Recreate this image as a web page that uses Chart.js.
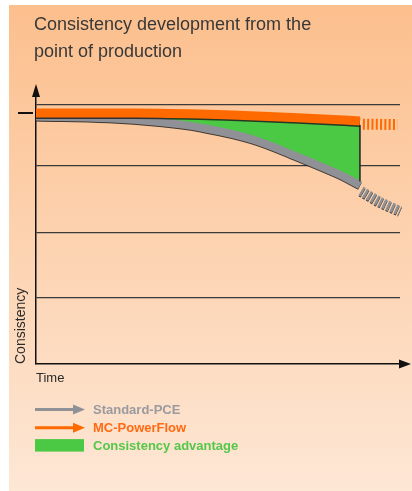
<!DOCTYPE html>
<html>
<head>
<meta charset="utf-8">
<script src="https://cdn.jsdelivr.net/npm/chart.js@4/dist/chart.umd.min.js"></script>
<style>
    body { margin: 0; background: #fff; }
    #wrap { position: relative; width: 412px; height: 491px; overflow: hidden; }
    #panel { position: absolute; left: 9px; top: 5px; right: 0; bottom: 0;
        background: linear-gradient(#fcbf8d, #fde7d5); }
    #chart { position: absolute; left: 0; top: 0; }
</style>
</head>
<body>
<div id="wrap">
    <div id="panel"></div>
    <canvas id="chart" width="412" height="491"></canvas>
</div>
<script>
// chart data (time 0..100, consistency 0..100)
var titleLines = ['Consistency development from the', 'point of production'];
var timePoints = [0, 20, 34, 45, 59, 72, 83, 89];
var mcPowerFlow = [94.0, 94.0, 93.9, 93.6, 93.0, 92.2, 91.5, 91.0];
var standardPce = [92.7, 92.0, 90.6, 88.6, 84.3, 77.5, 71.2, 67.0];
var flowTailTime = [89.8, 99.3];
var flowTail = [89.8, 89.7];
var pceTailTime = [89.3, 94.5, 100];
var pceTail = [64.8, 60.7, 57.3];
var gridValues = [24.7, 49.4, 74.2, 97];
var legendLabels = ['Standard-PCE', 'MC-PowerFlow', 'Consistency advantage'];
var legendColors = ['#9a9a9f', '#ff6a13', '#55c74a'];

var orange = '#ff6a00';
var gray = '#8f9196';
var green = '#4cc944';

function points(xs, ys) {
    return xs.map(function (x, i) { return { x: x, y: ys[i] }; });
}

var extras = {
    id: 'extras',
    beforeDatasetDraw: function (chart, args) {
        var ds = chart.data.datasets[args.index];
        var ctx = chart.ctx;
        ctx.save();
        if (ds.edge) {
            ctx.shadowColor = 'rgba(30,30,30,0.85)';
            ctx.shadowOffsetY = ds.edge;
            ctx.shadowBlur = 0;
        }
    },
    afterDatasetDraw: function (chart) {
        chart.ctx.restore();
    },
    afterDraw: function (chart) {
        var ctx = chart.ctx;
        var area = chart.chartArea;
        var xs = chart.scales.x;
        var ys = chart.scales.y;
        ctx.save();

        // title
        ctx.fillStyle = '#383838';
        ctx.font = '18px "Liberation Sans", Arial, sans-serif';
        ctx.textBaseline = 'alphabetic';
        ctx.textAlign = 'left';
        for (var i = 0; i < titleLines.length; i++) {
            ctx.fillText(titleLines[i], 34, 30 + i * 27);
        }

        // axis arrows
        ctx.fillStyle = '#111';
        ctx.beginPath();
        ctx.moveTo(area.left, area.top - 13);
        ctx.lineTo(area.left - 4, area.top);
        ctx.lineTo(area.left + 4, area.top);
        ctx.fill();
        ctx.strokeStyle = '#111';
        ctx.lineWidth = 1.5;
        ctx.beginPath();
        ctx.moveTo(area.right, area.bottom);
        ctx.lineTo(area.right + 2, area.bottom);
        ctx.stroke();
        ctx.beginPath();
        ctx.moveTo(area.right + 11, area.bottom);
        ctx.lineTo(area.right - 1, area.bottom - 4.5);
        ctx.lineTo(area.right - 1, area.bottom + 4.5);
        ctx.fill();

        // start marker on the y axis
        var y0 = ys.getPixelForValue(mcPowerFlow[0]);
        ctx.lineWidth = 2;
        ctx.beginPath();
        ctx.moveTo(area.left - 18, y0);
        ctx.lineTo(area.left - 3, y0);
        ctx.stroke();

        // closing edge of the advantage area
        var last = timePoints.length - 1;
        var xe = xs.getPixelForValue(timePoints[last]);
        ctx.lineWidth = 1.5;
        ctx.strokeStyle = '#222';
        ctx.beginPath();
        ctx.moveTo(xe, ys.getPixelForValue(mcPowerFlow[last]) + 4);
        ctx.lineTo(xe, ys.getPixelForValue(standardPce[last]) - 3.5);
        ctx.stroke();

        // legend
        ctx.font = 'bold 13px "Liberation Sans", Arial, sans-serif';
        for (var j = 0; j < legendLabels.length; j++) {
            var cy = 408.5 + j * 18.3;
            if (j < 2) {
                var c = j === 0 ? gray : orange;
                ctx.strokeStyle = c;
                ctx.fillStyle = c;
                ctx.lineWidth = 3;
                ctx.beginPath();
                ctx.moveTo(35, cy + 1);
                ctx.lineTo(76, cy + 1);
                ctx.stroke();
                ctx.beginPath();
                ctx.moveTo(85, cy + 1);
                ctx.lineTo(73, cy - 4);
                ctx.lineTo(73, cy + 6);
                ctx.fill();
            } else {
                ctx.fillStyle = green;
                ctx.fillRect(35, cy - 6, 49, 12.5);
            }
            ctx.fillStyle = legendColors[j];
            ctx.fillText(legendLabels[j], 93, cy + 5);
        }
        ctx.restore();
    }
};

var chart = new Chart(document.getElementById('chart'), {
    type: 'line',
    data: {
        datasets: [{
            label: 'MC-PowerFlow',
            data: points(timePoints, mcPowerFlow),
            borderColor: orange,
            borderWidth: 9,
            tension: 0.4,
            fill: { target: 1, above: green, below: green },
            edge: 1.5
        }, {
            label: 'Standard-PCE',
            data: points(timePoints, standardPce),
            borderColor: gray,
            borderWidth: 8,
            tension: 0.4,
            fill: false,
            edge: 1
        }, {
            label: 'MC-PowerFlow tail',
            data: points(flowTailTime, flowTail),
            borderColor: orange,
            borderWidth: 11,
            borderDash: [2, 2.3],
            borderCapStyle: 'butt',
            fill: false
        }, {
            label: 'Standard-PCE tail',
            data: points(pceTailTime, pceTail),
            borderColor: gray,
            borderWidth: 10,
            borderDash: [2.5, 1.8],
            borderCapStyle: 'butt',
            tension: 0.3,
            fill: false,
            edge: 1
        }]
    },
    options: {
        responsive: false,
        animation: false,
        clip: false,
        layout: { padding: { left: 0, top: 97, right: 12, bottom: 105 } },
        elements: { point: { radius: 0 } },
        plugins: {
            legend: { display: false },
            tooltip: { enabled: false },
            filler: { drawTime: 'beforeDatasetsDraw' }
        },
        scales: {
            x: {
                type: 'linear',
                min: 0,
                max: 100,
                ticks: { display: false },
                grid: { display: false },
                border: { display: true, color: '#111', width: 1.5 },
                title: {
                    display: true,
                    text: 'Time',
                    align: 'start',
                    color: '#2a2a2a',
                    font: { family: '"Liberation Sans", Arial, sans-serif', size: 13 },
                    padding: { top: 5, bottom: 0 }
                },
                afterFit: function (scale) { scale.height = 22; }
            },
            y: {
                min: 0,
                max: 100,
                afterBuildTicks: function (scale) {
                    scale.ticks = gridValues.map(function (v) { return { value: v }; });
                },
                ticks: { display: false },
                grid: { color: '#3a3a3a', lineWidth: 1.2, drawTicks: false },
                border: { display: true, color: '#111', width: 1.5 },
                title: {
                    display: true,
                    text: 'Consistency',
                    align: 'start',
                    color: '#2a2a2a',
                    font: { family: '"Liberation Sans", Arial, sans-serif', size: 14 },
                    padding: { top: 12.5, bottom: 0 }
                },
                afterFit: function (scale) { scale.width = 36; }
            }
        }
    },
    plugins: [extras]
});
</script>
</body>
</html>
